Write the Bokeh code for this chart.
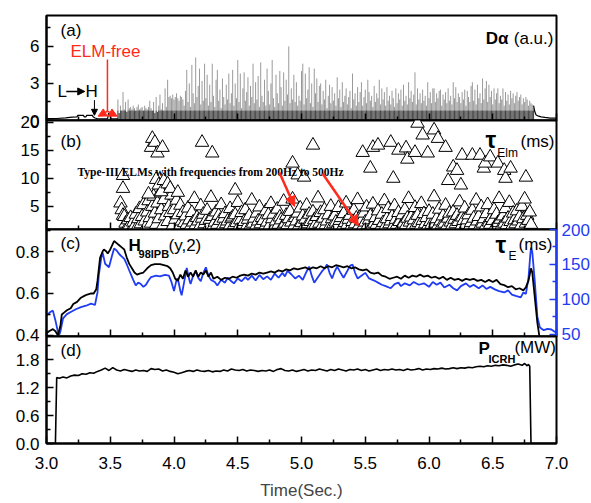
import numpy as np
from bokeh.plotting import figure
from bokeh.layouts import column
from bokeh.models import (Range1d, LinearAxis, FixedTicker,
                          NumeralTickFormatter, Label, Arrow, NormalHead)
from bokeh.embed import file_html
from bokeh.resources import INLINE

FONT = "Liberation Sans"
SERIF = "Liberation Serif"
BLUE = "#1f3cf2"
RED = "#ff2a1a"

# ---------------- data ----------------
# (a) D-alpha: quiet baseline before the ELMs, spike heights sampled every 10 ms from 3.56 s, tail
da_pre_t = [3.00, 3.08, 3.15, 3.20, 3.24, 3.245, 3.29, 3.295, 3.31, 3.315, 3.36, 3.365,
            3.38, 3.40, 3.48, 3.485, 3.50, 3.505, 3.56]
da_pre_v = [0.15, 0.16, 0.22, 0.28, 0.30, 0.42, 0.42, 0.30, 0.30, 0.42, 0.42, 0.30,
            0.20, 0.14, 0.14, 0.55, 0.55, 0.14, 0.14]
da_h = [1.7, 0.6, 1.2, 0.8, 2.3, 0.9, 1.5, 0.7, 1.7,
        1.0, 1.1, 0.9, 1.2, 1.0, 0.8, 1.1, 1.3, 0.9, 1.0,
        1.1, 0.8, 1.2, 1.0, 0.9, 1.1, 1.6, 1.0, 0.8, 1.5,
        0.6, 1.9, 0.7, 1.2, 2.1, 0.9, 1.4, 0.8, 2.6, 1.1,
        3.3, 1.9, 2.0, 1.8, 2.1, 1.7, 1.9, 2.2, 1.8, 1.6,
        2.0, 1.9, 1.7, 1.2, 2.4, 4.1, 1.5, 3.0, 1.1, 4.5,
        2.2, 1.4, 5.1, 1.9, 2.8, 4.2, 1.3, 3.2, 1.6, 4.6,
        1.8, 3.7, 1.2, 2.9, 1.5, 4.6, 2.0, 1.1, 3.3, 4.1,
        1.6, 2.5, 1.0, 3.4, 1.9, 1.3, 2.9, 1.7, 3.8, 1.4,
        2.2, 4.1, 1.2, 3.0, 1.8, 4.9, 1.5, 3.8, 1.0, 2.6,
        3.9, 1.6, 2.3, 3.5, 1.2, 2.8, 1.9, 4.6, 1.4, 3.1,
        1.7, 3.6, 1.1, 4.7, 2.0, 1.5, 3.3, 1.2, 4.2, 2.4,
        1.3, 3.0, 4.9, 1.8, 1.1, 3.7, 2.2, 1.4, 4.0, 2.7,
        1.2, 3.9, 1.6, 3.3, 2.1, 6.0, 1.4, 2.6, 1.7, 3.7,
        1.5, 3.1, 1.2, 2.0, 1.6, 4.0, 4.6, 1.3, 3.8, 1.8,
        2.5, 4.3, 1.4, 3.0, 1.1, 4.2, 2.2, 3.4, 1.5, 2.8,
        3.0, 1.3, 2.4, 1.7, 3.3, 1.0, 2.0, 2.9, 1.4, 2.7,
        1.6, 2.2, 1.2, 3.5, 1.8, 2.5, 1.1, 3.1, 1.5, 2.0,
        2.6, 1.3, 1.9, 2.4, 1.0, 3.8, 1.7, 2.2, 1.2, 2.7,
        1.5, 2.3, 3.1, 1.2, 1.9, 2.5, 1.4, 3.3, 2.3, 1.6,
        2.0, 1.1, 2.8, 1.5, 2.2, 1.8, 3.3, 1.3, 2.6, 1.7,
        2.3, 1.2, 2.7, 1.6, 2.0, 1.3, 2.4, 1.8, 1.1, 2.6,
        1.4, 2.2, 1.7, 2.5, 1.2, 2.9, 1.6, 2.0, 1.3, 3.1,
        1.8, 2.4, 1.5, 2.1, 3.9, 1.3, 2.6, 1.7, 2.2, 1.4,
        2.5, 1.6, 2.0, 1.2, 3.1, 1.8, 2.3, 1.4, 2.6, 2.6,
        1.5, 2.2, 1.8, 2.4, 2.5, 1.2, 2.1, 1.7, 2.3, 1.4,
        2.6, 1.6, 2.0, 1.3, 3.1, 1.8, 2.7, 1.5, 2.2, 1.9,
        1.4, 2.3, 1.7, 2.5, 1.2, 2.4, 1.9, 1.5, 2.8, 3.1,
        1.6, 2.5, 1.3, 2.9, 1.8, 2.2, 1.4, 3.4, 1.7, 2.6,
        3.2, 1.5, 2.9, 1.9, 2.4, 1.3, 2.6, 1.7, 2.2, 2.6,
        1.4, 2.0, 1.7, 2.6, 1.2, 2.3, 1.6, 2.1, 1.3, 2.4,
        1.8, 2.2, 1.4, 2.0, 2.3, 1.6, 1.9, 2.1, 1.3, 1.8,
        1.5, 1.9, 1.7, 1.2, 1.6, 1.4, 1.3, 1.0]
da_t = [round(3.56 + 0.01 * i, 2) for i in range(len(da_h))]
da_post_t = [6.82, 6.83, 6.84, 6.86, 6.88, 6.91, 6.95, 7.00]
da_post_v = [1.2, 0.7, 0.45, 0.35, 0.30, 0.25, 0.20, 0.20]

# (b) tau_ELM (ms): dense Type-III band, one ELM every 10 ms from 3.58 s
band_v = [5.6, 4.4, 3.4, 3.2, 2.0, 1.2, 2.6, 1.6, 3.0, 1.1,
          2.2, 1.5, 3.6, 1.3, 2.8, 4.6, 1.9, 3.2, 5.3, 2.4,
          1.4, 4.0, 6.0, 3.0, 2.0, 5.0, 6.8, 3.8, 1.8, 5.6,
          2.8, 7.4, 4.4, 1.5, 6.2, 3.3, 8.4, 2.3, 5.0, 3.9,
          7.0, 1.6, 4.4, 2.7, 6.1, 3.5, 1.3, 5.2, 2.4, 3.9,
          2.1, 3.3, 1.8, 4.7, 2.6, 1.5, 3.9, 2.2, 6.4, 1.7,
          3.0, 2.4, 1.4, 5.1, 2.9, 3.6, 1.9, 2.5, 4.3, 1.3,
          2.7, 6.6, 3.2, 1.6, 2.2, 4.0, 1.8, 3.4, 2.5, 5.3,
          1.5, 2.9, 3.7, 1.9, 2.4, 1.3, 4.6, 2.8, 3.1, 1.7,
          3.5, 2.1, 5.7, 1.4, 2.6, 3.9, 1.8, 2.3, 4.4, 1.5,
          2.7, 3.3, 1.6, 6.1, 2.0, 2.9, 1.4, 3.8, 2.4, 4.9,
          1.9, 3.0, 2.5, 1.3, 4.2, 2.2, 3.5, 1.6, 5.5, 2.8,
          3.6, 1.5, 2.4, 4.5, 1.8, 3.1, 2.6, 1.4, 5.9, 2.0,
          3.4, 1.7, 2.8, 4.1, 2.2, 6.3, 1.5, 3.0, 2.4, 3.8,
          1.6, 4.7, 2.1, 3.3, 1.4, 2.7, 5.2, 1.9, 3.6, 2.3,
          1.3, 4.0, 2.6, 1.8, 3.2, 6.5, 2.0, 3.9, 1.5, 2.9,
          4.4, 1.7, 2.4, 3.5, 1.4, 5.0, 2.8, 1.9, 3.3, 2.2,
          1.6, 4.8, 2.5, 3.0, 1.3, 3.7, 2.1, 5.6, 1.8, 2.7,
          3.4, 1.5, 2.3, 4.3, 1.9, 2.9, 6.2, 1.6, 3.1, 2.4,
          1.4, 3.8, 2.2, 4.9, 1.7, 2.6, 3.3, 1.5, 5.4, 2.0,
          3.0, 1.8, 4.2, 2.5, 1.3, 3.6, 2.1, 6.0, 1.6, 2.8,
          4.6, 1.9, 2.4, 3.2, 1.5, 5.1, 2.7, 1.8, 3.9, 2.3,
          1.4, 3.5, 2.0, 4.4, 1.7, 2.9, 6.4, 2.2, 3.1, 1.6,
          2.6, 4.8, 1.8, 3.4, 2.1, 1.4, 5.5, 2.5, 3.7, 1.9,
          3.0, 1.5, 4.1, 2.3, 1.8, 3.6, 6.7, 2.0, 2.8, 1.6,
          4.5, 2.4, 1.7, 3.3, 2.0, 5.2, 1.5, 2.9, 3.8, 2.2,
          1.6, 4.0, 2.7, 1.9, 3.4, 2.3, 5.8, 1.4, 3.1, 2.5,
          4.7, 1.8, 2.6, 3.5, 1.5, 2.1, 4.3, 2.9, 1.7, 6.1,
          2.4, 3.2, 1.6, 4.9, 2.0, 2.8, 1.4, 3.7, 5.3, 2.2,
          1.8, 3.0, 2.5, 4.4, 1.5, 3.6, 2.1, 6.4, 2.7, 1.6,
          3.3, 2.0, 4.6, 1.7, 2.9, 5.7, 2.3, 1.5, 3.8, 2.6,
          1.9, 4.2, 2.4, 3.1, 1.6, 5.0, 2.8, 6.3, 2.0, 3.4,
          2.5, 4.0, 1.8]
band_t = [round(3.58 + 0.01 * i, 2) for i in range(len(band_v))]
# (b) long inter-ELM periods
elm_hi = [(3.60, 10.5), (3.60, 8.2), (3.80, 7.2), (3.82, 15.5), (3.83, 17.1), (3.85, 16.4),
          (3.86, 9.8), (3.87, 14.5), (3.88, 8.8), (3.90, 7.6), (3.91, 15.5), (3.92, 9.6),
          (3.95, 9.0), (3.97, 8.2), (4.03, 7.5), (4.22, 16.4), (4.30, 14.5), (4.48, 7.9),
          (4.93, 12.7), (4.97, 10.6), (5.02, 10.2), (5.09, 15.9), (5.48, 14.6), (5.54, 11.8),
          (5.56, 15.5), (5.60, 15.9), (5.70, 16.4), (5.72, 10.0), (5.76, 15.0), (5.82, 15.4),
          (5.83, 13.4), (5.89, 14.6), (5.91, 19.8), (5.95, 17.7), (5.99, 14.5), (6.04, 18.6),
          (6.07, 17.1), (6.13, 15.5), (6.15, 9.6), (6.19, 12.0), (6.22, 11.4), (6.25, 8.8),
          (6.26, 14.1), (6.34, 14.1), (6.40, 14.1), (6.43, 11.8), (6.44, 12.7), (6.48, 13.8),
          (6.54, 12.7), (6.59, 11.4), (6.60, 10.0), (6.64, 11.8), (6.76, 10.2)]

# (c) H98(y,2) (left axis) and tau_E in ms (right axis)
h98 = [(3.00, 0.41), (3.02, 0.42), (3.05, 0.43), (3.07, 0.42), (3.09, 0.40), (3.11, 0.45),
       (3.12, 0.50), (3.14, 0.51), (3.16, 0.52), (3.19, 0.53), (3.21, 0.55), (3.24, 0.56),
       (3.27, 0.58), (3.30, 0.59), (3.32, 0.595), (3.35, 0.60), (3.37, 0.60), (3.39, 0.62),
       (3.40, 0.66), (3.42, 0.77), (3.44, 0.80), (3.45, 0.81), (3.47, 0.80), (3.48, 0.79),
       (3.50, 0.81), (3.53, 0.85), (3.55, 0.84), (3.57, 0.83), (3.59, 0.82), (3.61, 0.81),
       (3.63, 0.77), (3.65, 0.74), (3.67, 0.72), (3.69, 0.70), (3.71, 0.69), (3.73, 0.695),
       (3.76, 0.70), (3.79, 0.72), (3.82, 0.735), (3.85, 0.74), (3.89, 0.74), (3.92, 0.735),
       (3.95, 0.73), (3.97, 0.72), (3.99, 0.70), (4.01, 0.67), (4.03, 0.66), (4.05, 0.69),
       (4.07, 0.67), (4.09, 0.71), (4.11, 0.68), (4.13, 0.70), (4.15, 0.68), (4.17, 0.71),
       (4.19, 0.68), (4.21, 0.70), (4.23, 0.69), (4.25, 0.71), (4.27, 0.68), (4.29, 0.70),
       (4.31, 0.67), (4.34, 0.68), (4.37, 0.665), (4.40, 0.675), (4.43, 0.67), (4.46, 0.68),
       (4.49, 0.675), (4.52, 0.685), (4.55, 0.69), (4.58, 0.685), (4.61, 0.695), (4.64, 0.69),
       (4.67, 0.70), (4.70, 0.695), (4.73, 0.70), (4.76, 0.705), (4.79, 0.70), (4.82, 0.71),
       (4.85, 0.705), (4.88, 0.715), (4.91, 0.71), (4.94, 0.72), (4.97, 0.715), (5.00, 0.72),
       (5.03, 0.725), (5.06, 0.715), (5.09, 0.725), (5.12, 0.72), (5.15, 0.73), (5.18, 0.72),
       (5.21, 0.73), (5.24, 0.725), (5.27, 0.735), (5.30, 0.73), (5.33, 0.725), (5.36, 0.73),
       (5.39, 0.72), (5.42, 0.725), (5.45, 0.715), (5.48, 0.71), (5.51, 0.715), (5.54, 0.70),
       (5.57, 0.695), (5.60, 0.70), (5.63, 0.685), (5.66, 0.68), (5.69, 0.67), (5.72, 0.675),
       (5.75, 0.68), (5.78, 0.67), (5.81, 0.685), (5.84, 0.675), (5.87, 0.685), (5.90, 0.68),
       (5.93, 0.69), (5.96, 0.68), (5.99, 0.685), (6.02, 0.675), (6.05, 0.68), (6.08, 0.67),
       (6.11, 0.68), (6.14, 0.665), (6.17, 0.675), (6.20, 0.665), (6.23, 0.67), (6.26, 0.66),
       (6.29, 0.67), (6.32, 0.665), (6.35, 0.67), (6.38, 0.66), (6.41, 0.665), (6.44, 0.655),
       (6.47, 0.665), (6.50, 0.655), (6.53, 0.665), (6.56, 0.645), (6.59, 0.64), (6.62, 0.63),
       (6.65, 0.635), (6.68, 0.62), (6.71, 0.625), (6.74, 0.615), (6.76, 0.63), (6.78, 0.66),
       (6.80, 0.72), (6.81, 0.70), (6.83, 0.58), (6.85, 0.46), (6.87, 0.38), (6.90, 0.36)]
tau_e = [(3.00, 77), (3.03, 82), (3.05, 84), (3.07, 70), (3.09, 53), (3.10, 49), (3.11, 55),
         (3.13, 73), (3.16, 79), (3.19, 82), (3.23, 86), (3.27, 89), (3.31, 91), (3.35, 94),
         (3.38, 92), (3.40, 110), (3.41, 134), (3.43, 160), (3.44, 167), (3.46, 151), (3.49, 146),
         (3.51, 160), (3.53, 173), (3.55, 170), (3.57, 165), (3.61, 158), (3.63, 150), (3.65, 141),
         (3.68, 128), (3.70, 120), (3.72, 124), (3.74, 122), (3.76, 118), (3.78, 121), (3.80, 127),
         (3.82, 132), (3.86, 134), (3.89, 133), (3.93, 135), (3.96, 134), (3.98, 125), (4.00, 112),
         (4.02, 128), (4.03, 130), (4.05, 112), (4.06, 106), (4.08, 125), (4.10, 145), (4.12, 128),
         (4.13, 122), (4.15, 134), (4.17, 140), (4.19, 131), (4.21, 126), (4.23, 138), (4.25, 146),
         (4.27, 134), (4.29, 128), (4.32, 125), (4.34, 120), (4.37, 128), (4.40, 124), (4.42, 131),
         (4.45, 126), (4.47, 123), (4.50, 130), (4.53, 126), (4.56, 132), (4.58, 128), (4.61, 134),
         (4.64, 127), (4.67, 135), (4.70, 129), (4.73, 133), (4.76, 128), (4.79, 137), (4.82, 131),
         (4.85, 138), (4.87, 133), (4.89, 141), (4.92, 136), (4.95, 130), (4.98, 134), (5.01, 128),
         (5.04, 140), (5.06, 147), (5.08, 134), (5.10, 124), (5.13, 132), (5.16, 140), (5.18, 144),
         (5.20, 150), (5.22, 138), (5.24, 130), (5.26, 140), (5.28, 147), (5.31, 137), (5.33, 131),
         (5.36, 141), (5.38, 148), (5.40, 150), (5.42, 138), (5.44, 130), (5.47, 134), (5.50, 138),
         (5.53, 130), (5.57, 127), (5.60, 124), (5.63, 121), (5.66, 119), (5.70, 116), (5.73, 122),
         (5.76, 124), (5.78, 119), (5.81, 123), (5.85, 120), (5.88, 125), (5.92, 121), (5.96, 123),
         (6.00, 118), (6.03, 125), (6.06, 121), (6.09, 124), (6.12, 117), (6.16, 121), (6.19, 116),
         (6.22, 113), (6.25, 119), (6.29, 123), (6.32, 118), (6.35, 121), (6.39, 116), (6.42, 120),
         (6.45, 115), (6.48, 118), (6.52, 114), (6.55, 112), (6.59, 110), (6.62, 113), (6.65, 107),
         (6.68, 105), (6.72, 103), (6.74, 110), (6.76, 108), (6.78, 130), (6.795, 165), (6.80, 174),
         (6.81, 168), (6.83, 125), (6.85, 75), (6.87, 60), (6.90, 56), (6.93, 58), (6.96, 57),
         (7.00, 52)]

# (d) P_ICRH (MW)
p_icrh = [(3.00, 0.0), (3.07, 0.0), (3.08, 1.42), (3.10, 1.40), (3.13, 1.43), (3.16, 1.41),
          (3.19, 1.45), (3.22, 1.47), (3.25, 1.46), (3.28, 1.50), (3.31, 1.49), (3.34, 1.52),
          (3.37, 1.51), (3.40, 1.55), (3.43, 1.58), (3.46, 1.62), (3.49, 1.57), (3.52, 1.63),
          (3.55, 1.58), (3.58, 1.56), (3.61, 1.59), (3.64, 1.57), (3.67, 1.55), (3.70, 1.58),
          (3.73, 1.56), (3.76, 1.57), (3.79, 1.55), (3.82, 1.61), (3.85, 1.59), (3.88, 1.60),
          (3.91, 1.56), (3.94, 1.58), (3.97, 1.55), (4.00, 1.53), (4.03, 1.50), (4.06, 1.52),
          (4.09, 1.55), (4.12, 1.57), (4.15, 1.55), (4.18, 1.58), (4.21, 1.56), (4.24, 1.55),
          (4.27, 1.57), (4.30, 1.54), (4.33, 1.56), (4.36, 1.55), (4.39, 1.58), (4.42, 1.56),
          (4.45, 1.60), (4.48, 1.58), (4.51, 1.57), (4.54, 1.59), (4.57, 1.56), (4.60, 1.58),
          (4.63, 1.57), (4.66, 1.55), (4.69, 1.57), (4.72, 1.56), (4.75, 1.58), (4.78, 1.55),
          (4.81, 1.59), (4.84, 1.61), (4.87, 1.57), (4.90, 1.56), (4.93, 1.58), (4.96, 1.55),
          (4.99, 1.57), (5.02, 1.59), (5.05, 1.56), (5.08, 1.58), (5.11, 1.57), (5.14, 1.60),
          (5.17, 1.58), (5.20, 1.56), (5.23, 1.59), (5.26, 1.57), (5.29, 1.60), (5.32, 1.58),
          (5.35, 1.56), (5.38, 1.59), (5.41, 1.58), (5.44, 1.60), (5.47, 1.57), (5.50, 1.59),
          (5.53, 1.56), (5.56, 1.58), (5.59, 1.60), (5.62, 1.57), (5.65, 1.59), (5.68, 1.58),
          (5.71, 1.60), (5.74, 1.58), (5.77, 1.59), (5.80, 1.57), (5.83, 1.60), (5.86, 1.58),
          (5.89, 1.59), (5.92, 1.61), (5.95, 1.58), (5.98, 1.60), (6.01, 1.59), (6.04, 1.61),
          (6.07, 1.60), (6.10, 1.62), (6.13, 1.60), (6.16, 1.61), (6.19, 1.63), (6.22, 1.61),
          (6.25, 1.63), (6.28, 1.62), (6.31, 1.64), (6.34, 1.63), (6.37, 1.65), (6.40, 1.66),
          (6.43, 1.65), (6.46, 1.67), (6.49, 1.66), (6.52, 1.68), (6.55, 1.67), (6.58, 1.69),
          (6.61, 1.68), (6.64, 1.66), (6.67, 1.69), (6.70, 1.71), (6.73, 1.68), (6.75, 1.72),
          (6.77, 1.67), (6.78, 1.70), (6.79, 1.66), (6.80, 0.0), (7.00, 0.0)]

# axis ticks
x_major = [3.0, 3.5, 4.0, 4.5, 5.0, 5.5, 6.0, 6.5, 7.0]
x_minor = [3.25, 3.75, 4.25, 4.75, 5.25, 5.75, 6.25, 6.75]
a_ticks, a_minor = [0, 3, 6], [1.5, 4.5, 7.5]
b_ticks, b_minor = [5, 10, 15, 20], [2.5, 7.5, 12.5, 17.5]
c_ticks, c_minor = [0.4, 0.6, 0.8], [0.5, 0.7, 0.9]
cr_ticks, cr_minor = [50, 100, 150, 200], [75, 125, 175]
d_ticks, d_minor = [0.0, 0.6, 1.2, 1.8], [0.3, 0.9, 1.5, 2.1]

# ---------------- figures ----------------
xr = Range1d(3.0, 7.0)
PAD = 10


def style_axis(ax, color="black", labels=True):
    ax.axis_line_width = 2
    ax.axis_line_color = color
    ax.major_tick_line_color = color
    ax.minor_tick_line_color = color
    ax.major_tick_line_width = 1.5
    ax.minor_tick_line_width = 1.5
    ax.major_tick_in = 7
    ax.major_tick_out = 0
    ax.minor_tick_in = 4
    ax.minor_tick_out = 0
    ax.major_label_text_font = FONT
    ax.major_label_text_color = color
    if labels:
        ax.major_label_text_font_size = "17px"
        ax.major_label_standoff = 7
    else:
        ax.major_label_text_font_size = "1px"
        ax.major_label_text_alpha = 0
        ax.major_label_standoff = 0


def panel(y0, y1, fh, top, bottom, shift, yt, ym, fmt, xlabels=False):
    p = figure(x_range=xr, y_range=Range1d(y0, y1), frame_width=510, frame_height=fh,
               min_border_left=46, min_border_right=35, min_border_top=top,
               min_border_bottom=bottom, output_backend="svg", toolbar_location=None)
    p.margin = (shift, 0, 0, 0)
    p.border_fill_alpha = 0
    p.background_fill_color = "white"
    p.outline_line_color = "black"
    p.outline_line_width = 2
    p.grid.visible = False
    p.xaxis.ticker = FixedTicker(ticks=x_major, minor_ticks=x_minor)
    p.xaxis.formatter = NumeralTickFormatter(format="0.0")
    style_axis(p.xaxis[0], labels=xlabels)
    p.yaxis.ticker = FixedTicker(ticks=yt, minor_ticks=ym)
    p.yaxis.formatter = NumeralTickFormatter(format=fmt)
    style_axis(p.yaxis[0])
    return p


def lab(p, x, y, text, size="17px", color="black", style="normal", font=FONT,
        baseline="middle", align="left"):
    p.add_layout(Label(x=x, y=y, text=text, text_font=font, text_font_size=size,
                       text_color=color, text_font_style=style, text_baseline=baseline,
                       text_align=align))


def arrow(p, x0, y0, x1, y1, color, width, head=8):
    hd = NormalHead(size=head, fill_color=color, line_color=color) if head else None
    p.add_layout(Arrow(end=hd, x_start=x0, y_start=y0, x_end=x1, y_end=y1,
                       line_color=color, line_width=width))


# (a)
pa = panel(0, 8.5, 105, 15, PAD, 0, a_ticks, a_minor, "0")
pa.segment(x0=da_t, y0=[0] * len(da_t), x1=da_t, y1=da_h, line_color="black",
           line_alpha=0.5, line_width=0.8)
pa.segment(x0=da_t, y0=[0] * len(da_t), x1=da_t, y1=[min(h, 0.8) for h in da_h],
           line_color="black", line_alpha=0.7, line_width=0.8)
pa.line(da_pre_t, da_pre_v, line_color="black", line_width=1.2)
pa.line(da_post_t, da_post_v, line_color="black", line_width=1.2)
lab(pa, 3.11, 7.29, "(a)")
lab(pa, 6.624, 6.6, "Dα", style="bold", align="right")
lab(pa, 6.976, 6.6, "(a.u.)", align="right")
lab(pa, 3.188, 5.55, "ELM-free", color=RED)
arrow(pa, 3.478, 4.94, 3.478, 0.75, RED, 1.5, head=None)
arrow(pa, 3.478, 0.75, 3.405, 0.35, RED, 1.5, head=8)
arrow(pa, 3.478, 0.75, 3.555, 0.35, RED, 1.5, head=8)
lab(pa, 3.086, 2.35, "L")
lab(pa, 3.306, 2.35, "H")
arrow(pa, 3.155, 2.35, 3.30, 2.35, "black", 1.5, head=7)
arrow(pa, 3.376, 1.65, 3.376, 0.42, "black", 1.0, head=6)

# (b)
pb = panel(0.9, 20.3, 109, PAD, PAD, -2 * PAD, b_ticks, b_minor, "0")
pb.scatter(band_t, band_v, marker="triangle", size=13.5, fill_color="white",
           line_color="black", line_width=1)
pb.scatter([t for t, v in elm_hi], [v for t, v in elm_hi], marker="triangle", size=13.5,
           fill_color="white", line_color="black", line_width=1)
lab(pb, 3.11, 16.56, "(b)")
lab(pb, 6.443, 16.9, "τ", size="24px", style="bold")
lab(pb, 6.535, 14.6, "Elm", size="12px")
lab(pb, 6.718, 16.56, "(ms)")
lab(pb, 3.243, 11.22, "Type-III ELMs with frequencies from 200Hz to 500Hz", size="11.5px",
    style="bold", font=SERIF, baseline="alphabetic")
arrow(pb, 4.827, 11.04, 4.945, 5.0, RED, 2.5, head=10)
arrow(pb, 5.165, 10.87, 5.447, 1.61, RED, 2.5, head=10)

# (c)
pc = panel(0.395, 0.905, 107, PAD, PAD, -2 * PAD, c_ticks, c_minor, "0.0")
pc.extra_y_ranges = {"tau": Range1d(47, 200)}
rax = LinearAxis(y_range_name="tau", ticker=FixedTicker(ticks=cr_ticks, minor_ticks=cr_minor),
                 formatter=NumeralTickFormatter(format="0"))
style_axis(rax, color=BLUE)
rax.major_label_standoff = 5
pc.add_layout(rax, "right")
pc.line([t for t, v in tau_e], [v for t, v in tau_e], y_range_name="tau",
        line_color=BLUE, line_width=1.8)
pc.line([t for t, v in h98], [v for t, v in h98], line_color="black", line_width=1.8)
lab(pc, 3.11, 0.838, "(c)")
lab(pc, 3.643, 0.829, "H", style="bold")
lab(pc, 3.722, 0.786, "98IPB", size="11px", style="bold")
lab(pc, 3.957, 0.829, "(y,2)")
lab(pc, 6.522, 0.833, "τ", size="24px", style="bold")
lab(pc, 6.624, 0.781, "E", size="12px")
lab(pc, 6.702, 0.833, "(ms)")

# (d)
pd = panel(0, 2.3, 107, PAD, 54, -2 * PAD, d_ticks, d_minor, "0.0", xlabels=True)
pd.xaxis.major_label_standoff = 13
pd.xaxis.axis_label = "Time(Sec.)"
pd.xaxis.axis_label_text_font = FONT
pd.xaxis.axis_label_text_font_size = "17px"
pd.xaxis.axis_label_text_font_style = "normal"
pd.xaxis.axis_label_standoff = 9
pd.line([t for t, v in p_icrh], [v for t, v in p_icrh], line_color="black", line_width=1.6)
lab(pd, 3.11, 2.0, "(d)")
lab(pd, 6.388, 2.04, "P", style="bold")
lab(pd, 6.467, 1.81, "ICRH", size="11px", style="bold")
lab(pd, 6.67, 2.06, "(MW)")

layout = column(pa, pb, pc, pd, spacing=0)
open("out.html", "w").write(file_html(layout, INLINE))
